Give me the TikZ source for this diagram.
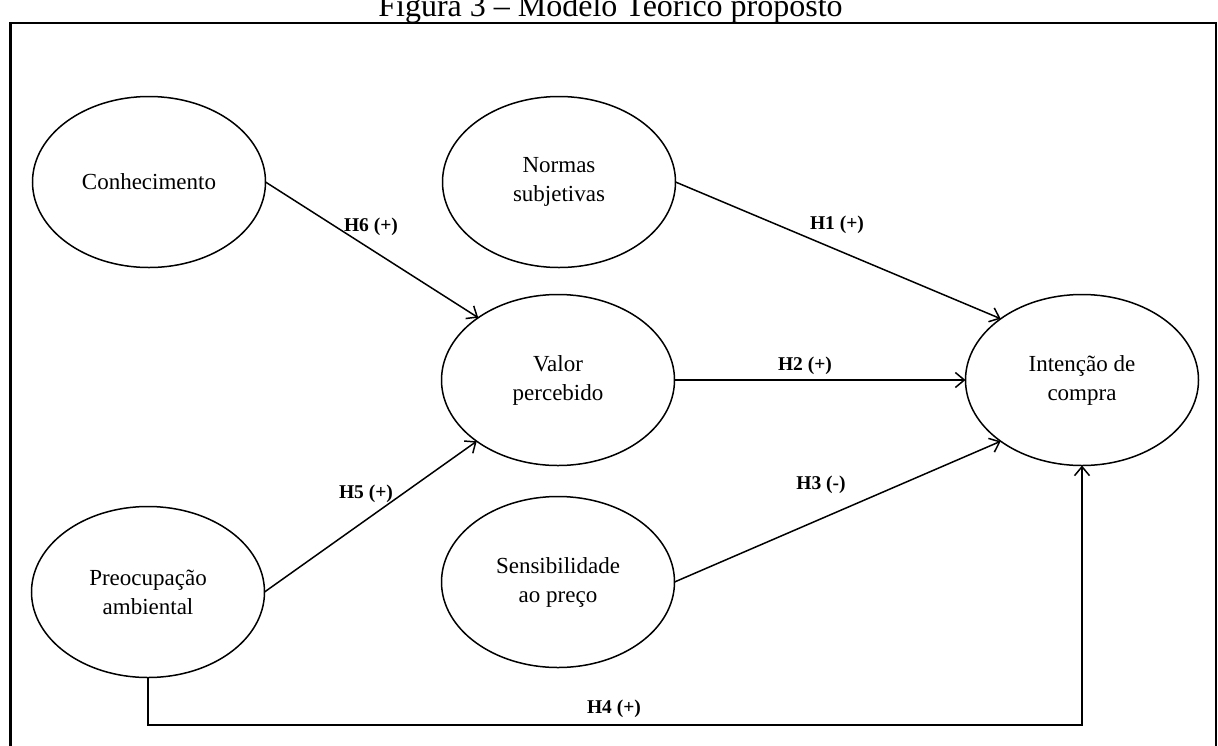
\documentclass[tikz,border=0pt]{standalone}
\usepackage{fontspec}
\setmainfont{Liberation Serif}
\usetikzlibrary{shapes.geometric,arrows.meta}

\begin{document}
\begin{tikzpicture}[x=1pt,y=-1pt,
  construct/.style={ellipse,draw,line width=1.5pt,minimum width=233pt,minimum height=171pt,
    inner sep=0pt,outer sep=0pt,align=center,font=\fontsize{23}{29}\selectfont},
  path/.style={line width=1.5pt,-{Straight Barb[length=9pt,width=15pt,line width=1.5pt]}},
  hyp/.style={font=\fontsize{19.5}{23}\selectfont\bfseries,inner sep=0pt}]
  \useasboundingbox (0,0) rectangle (1218,745);
  \clip (0,0) rectangle (1218,745);

  % caption and outer frame
  \node[anchor=base,inner sep=0pt,font=\fontsize{32}{38}\selectfont] (title) at (610.5,16.5) {Figura 3 – Modelo Teórico proposto};
  \draw[line width=2.8pt] (10.5,23) rectangle (1216,800);

  % constructs
  \node[construct] (conh) at (149,182) {Conhecimento};
  \node[construct] (norm) at (559,182) {Normas\\subjetivas};
  \node[construct] (valor) at (558,380) {Valor\\percebido};
  \node[construct] (int) at (1082,380) {Intenção de\\compra};
  \node[construct] (preoc) at (148,592) {Preocupação\\ambiental};
  \node[construct] (sens) at (558,582) {Sensibilidade\\ao preço};

  % hypotheses
  \draw[path] (conh.east) -- (valor.142);
  \draw[path] (norm.east) -- (int.143);
  \draw[path] (valor.east) -- (int.west);
  \draw[path] (sens.east) -- (int.217);
  \draw[path] (preoc.east) -- (valor.217);
  \coordinate (bend) at (148,725);
  \draw[path] (preoc.south) -- (bend) -| (int.south);

  \node[hyp] (h6) at (371,227) {H6 (+)};
  \node[hyp] (h1) at (837,225) {H1 (+)};
  \node[hyp] (h2) at (805,366) {H2 (+)};
  \node[hyp] (h3) at (821,485) {H3 (-)};
  \node[hyp] (h5) at (366,494) {H5 (+)};
  \node[hyp] (h4) at (614,709) {H4 (+)};
\end{tikzpicture}
\end{document}
